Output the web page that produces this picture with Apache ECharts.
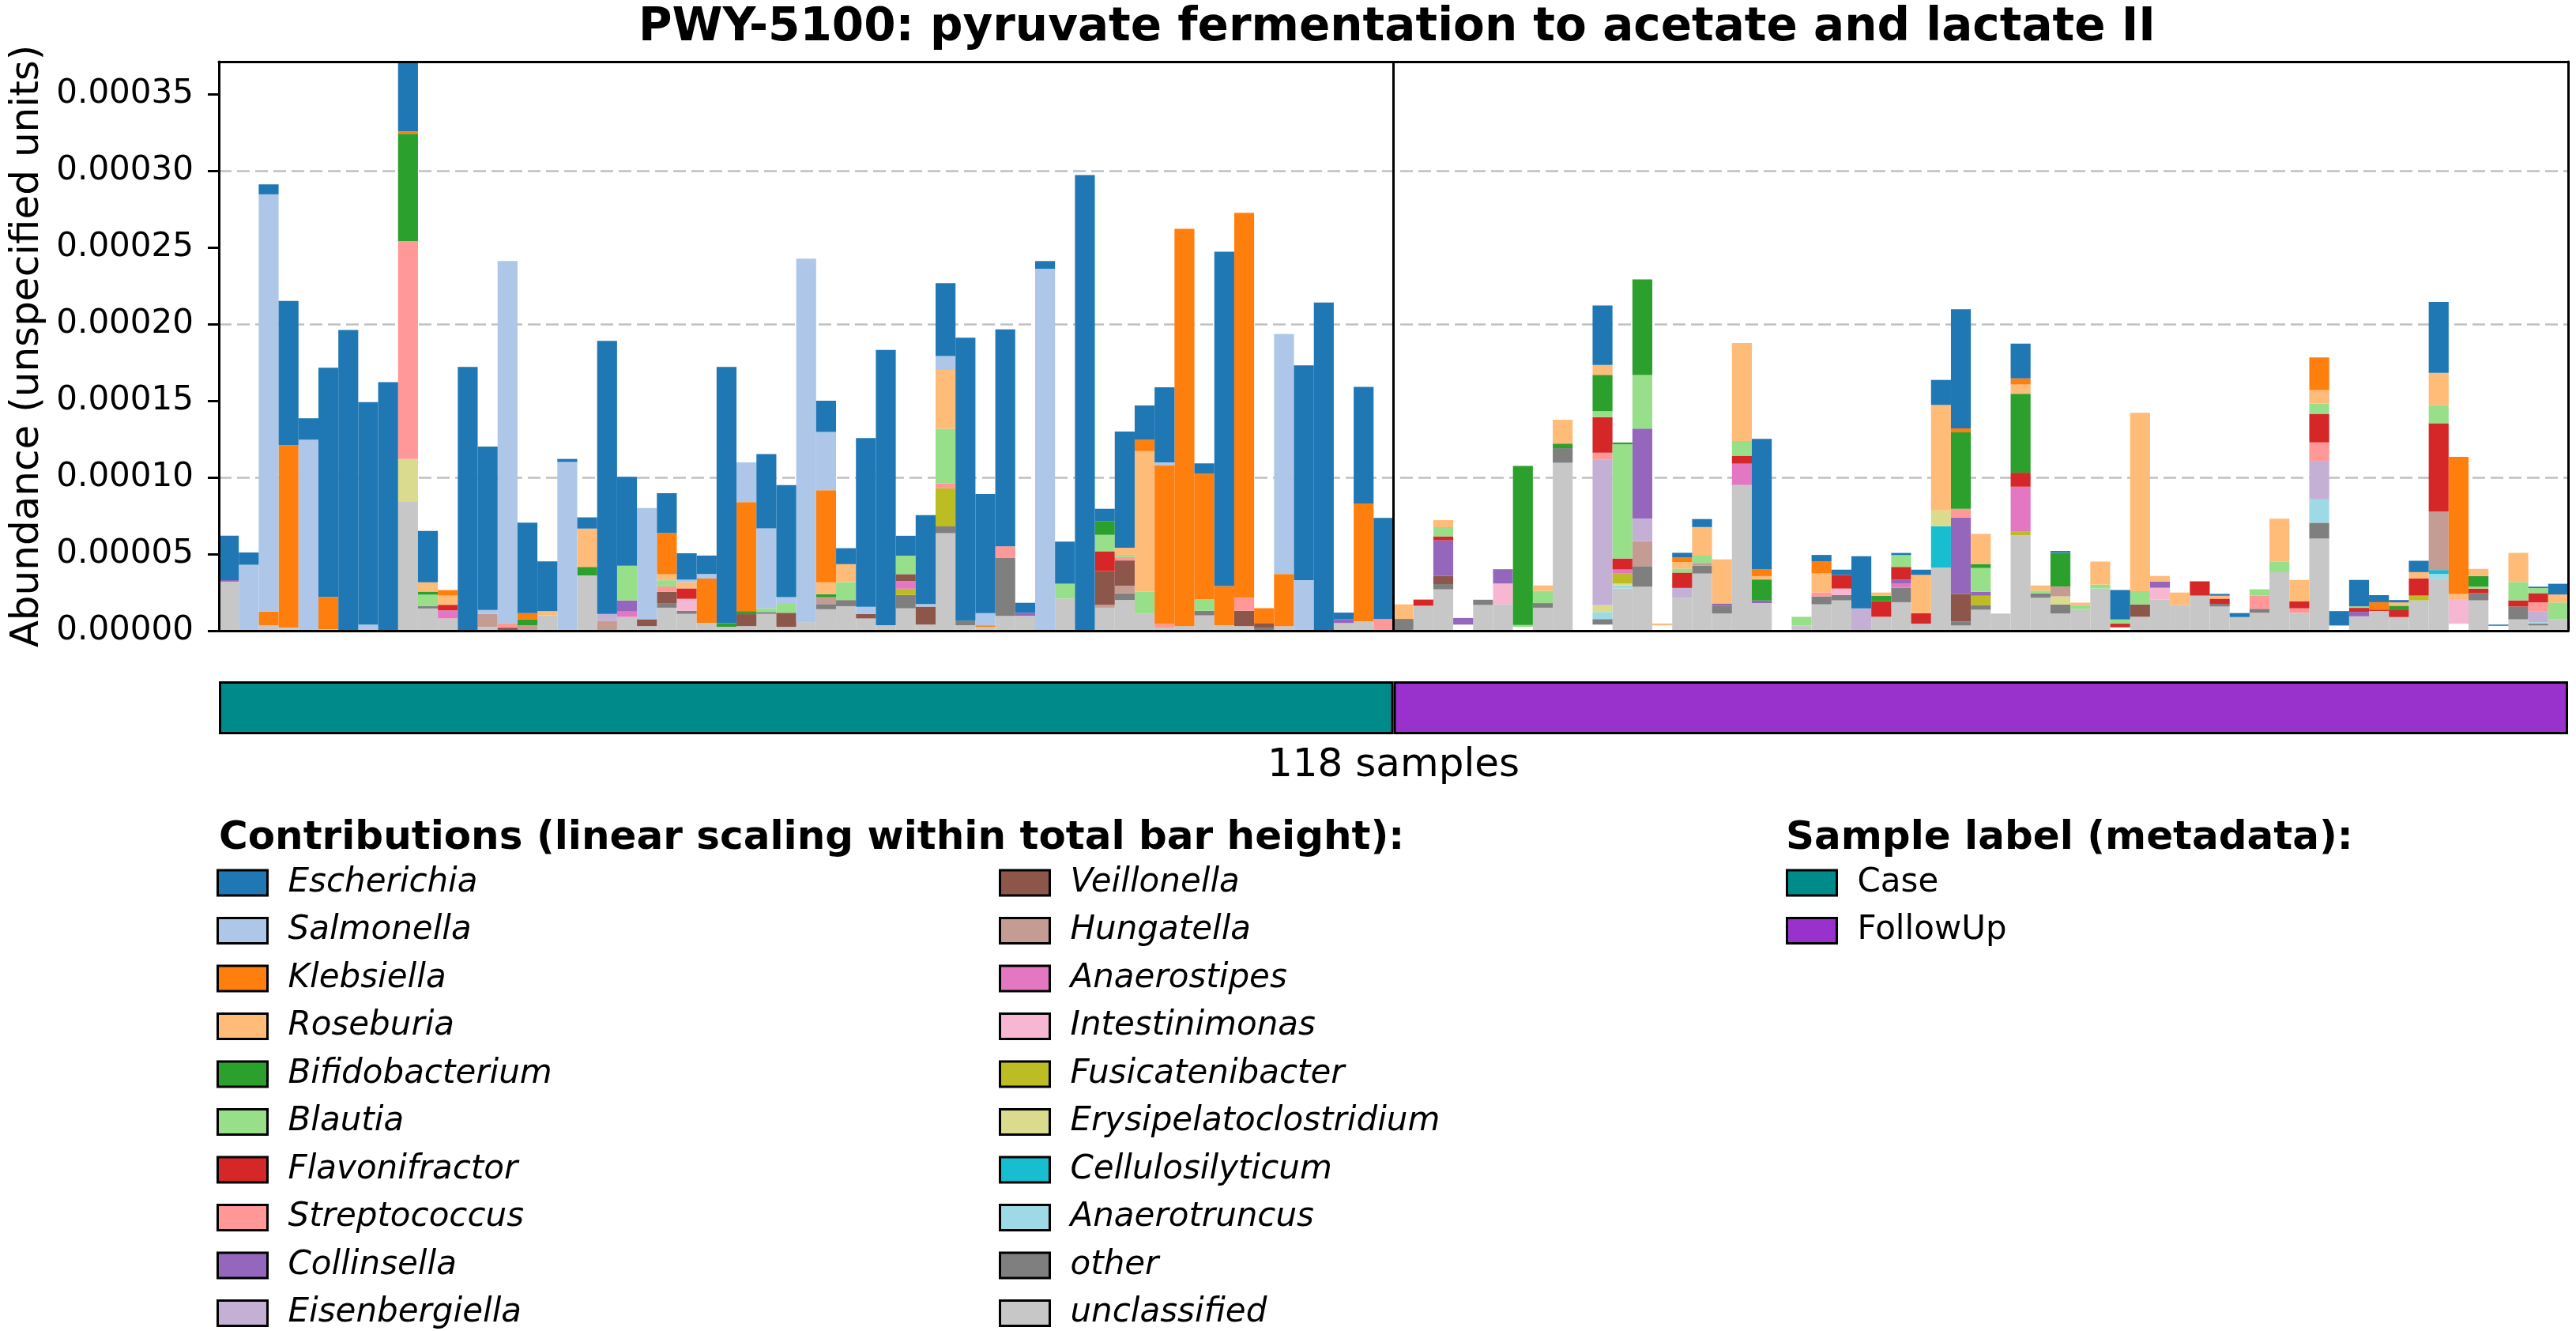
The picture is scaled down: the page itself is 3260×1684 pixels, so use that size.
<!DOCTYPE html>
<html>
<head>
<meta charset="utf-8">
<script src="https://cdn.jsdelivr.net/npm/echarts@6/dist/echarts.min.js"></script>
<style>
    html, body { margin: 0; padding: 0; background: #fff; }
    #chart { width: 3260px; height: 1684px; }
</style>
</head>
<body>
<div id="chart"></div>
<script>
// All abundances below are in units of 1e-5 (axis labels convert back).
const UNIT = 1e-5;
const yMax = 37.1;
const yTicks = [0, 5, 10, 15, 20, 25, 30, 35];
const gridStep = 10;

const groups = ["Case", "FollowUp"];
const groupSizes = [59, 59];

const escherichia = [
    2.9, 0.8, 0.65, 9.4, 1.4, 14.95, 19.6, 14.5, 16.2, 4.55,
    3.35, 0, 17.2, 10.65, 0, 5.9, 3.25, 0.2, 0.73, 17.8,
    5.8, 0, 2.6, 1.72, 1.2, 16.7, 0, 4.85, 7.3, 0,
    2.04, 1.04, 11.0, 17.95, 1.3, 5.8, 4.76, 18.45, 7.77, 14.15,
    0.65, 0.5, 2.74, 29.7, 0.8, 7.57, 2.23, 4.9, 0, 0.68,
    21.8, 0, 0, 0, 14.0, 21.4, 0.44, 7.6, 6.6, 0,
    0, 0, 0, 0, 0, 0, 0, 0, 0, 3.87,
    0, 0, 0, 0.31, 0.52, 0, 0, 8.49, 0, 0,
    0.43, 0.34, 3.4, 0, 0.14, 0.34, 1.63, 7.77, 0, 0,
    2.27, 0, 0.12, 0, 0, 1.92, 0, 0, 0, 0,
    0.12, 0.26, 0, 0, 0, 0, 0.94, 1.72, 0.46, 0.15,
    0.74, 4.62, 0, 0, 0.08, 0, 0.09, 0.7
];
const salmonella = [
    0, 4.3, 27.2, 0, 12.45, 0, 0, 0.4, 0, 0,
    0, 0, 0, 0.25, 23.6, 0, 0, 11.0, 0, 0,
    0, 7.25, 0, 0.17, 0.3, 0, 2.6, 5.2, 0.44, 23.7,
    3.8, 0, 0.46, 0, 0, 0.17, 0.9, 0, 0.8, 0,
    0, 23.5, 0, 0, 0, 0, 0, 0.17, 0, 0,
    0, 0, 0, 15.65, 3.3, 0, 0, 0, 0, 0,
    0, 0, 0, 0, 0, 0, 0, 0, 0, 0,
    0, 0, 0, 0, 0, 0, 0, 0, 0, 0,
    0, 0, 0, 0, 0, 0, 0, 0, 0, 0,
    0, 0, 0, 0, 0, 0, 0, 0, 0, 0,
    0, 0, 0, 0, 0, 0, 0, 0, 0, 0,
    0, 0, 0, 0, 0, 0, 0, 0
];
const klebsiella = [
    0, 0, 0.9, 11.9, 0, 2.1, 0, 0, 0, 0.15,
    0, 0.36, 0, 0, 0, 0.4, 0, 0, 0, 0,
    0, 0, 2.67, 0, 2.9, 0, 7.1, 0, 0, 0,
    6.0, 0, 0, 0, 0, 0, 0, 0, 0.1, 0,
    0, 0, 0, 0, 0, 0, 0.75, 10.36, 25.9, 8.2,
    2.55, 25.1, 0.97, 3.4, 0, 0, 0, 7.7, 0, 0,
    0, 0, 0, 0, 0, 0, 0, 0, 0, 0,
    0, 0, 0, 0.29, 0, 0, 0, 0.46, 0, 0,
    0.77, 0, 0, 0, 0, 0, 0, 0.26, 0, 0,
    0.4, 0, 0, 0, 0, 0, 0, 0, 0, 0,
    0, 0, 0, 0, 0, 2.13, 0, 0, 0.48, 0,
    0, 0, 8.93, 0, 0, 0, 0, 0
];
const roseburia = [
    0, 0, 0, 0, 0, 0, 0, 0, 0, 0,
    0.6, 0.6, 0, 0, 0, 0, 0.27, 0, 2.5, 0,
    0, 0, 0.4, 0.4, 0, 0, 0, 0, 0, 0,
    0.78, 1.17, 0, 0, 0, 0, 3.83, 0, 0, 0,
    0, 0, 0, 0, 0, 0.46, 9.15, 0, 0, 0,
    0, 0, 0, 0, 0, 0, 0, 0, 0, 0.95,
    0, 0.46, 0, 0, 0, 0, 0.35, 1.55, 0, 0.65,
    0, 0, 0.12, 0.43, 1.82, 2.87, 6.39, 0.22, 0, 0,
    1.24, 0, 0, 0.21, 0, 2.49, 6.87, 0, 1.96, 0,
    0.6, 0.34, 0, 0.15, 1.5, 0, 11.63, 0.36, 0.81, 0,
    0.19, 0, 0, 2.8, 1.39, 0.88, 0, 0, 0, 0.22,
    0.41, 2.11, 0.38, 0.46, 0, 1.89, 0, 0.52
];
const bifidobacterium = [
    0, 0, 0, 0, 0, 0, 0, 0, 0, 7.0,
    0.2, 0, 0, 0, 0, 0.4, 0, 0, 0.56, 0,
    0, 0, 0, 0, 0, 0.25, 0.2, 0, 0, 0,
    0.2, 0, 0, 0, 0, 0, 0, 0, 0, 0,
    0, 0, 0, 0, 0.9, 0, 0, 0, 0, 0,
    0, 0, 0, 0, 0, 0, 0, 0, 0, 0,
    0, 0, 0, 0, 0, 10.37, 0, 0.3, 0, 2.37,
    0.12, 6.24, 0, 0, 0, 0, 0, 1.37, 0, 0,
    0, 0, 0, 0.36, 0, 0, 0, 4.98, 0.26, 0,
    5.15, 0, 2.2, 0, 0, 0, 0, 0, 0, 0,
    0, 0, 0, 0, 0, 0, 0, 0, 0, 0.29,
    0, 0, 0, 0.7, 0, 0, 0, 0
];
const blautia = [
    0, 0, 0, 0, 0, 0, 0, 0, 0, 0,
    0.73, 0, 0, 0, 0, 0, 0, 0, 0, 0,
    2.26, 0, 0.4, 0, 0, 0, 0, 0.25, 0.58, 0,
    0, 1.17, 0, 0, 1.2, 0, 3.57, 0, 0, 0,
    0, 0, 0.97, 0, 1.07, 0.15, 1.46, 0, 0, 0.73,
    0, 0, 0, 0, 0, 0, 0, 0, 0, 0,
    0, 0.6, 0, 0, 0, 0.12, 0.8, 0, 0, 0.38,
    7.44, 3.49, 0, 0.26, 0.52, 0, 0.96, 0, 0, 0.57,
    0, 0, 0, 0, 0.77, 0, 0, 0, 1.55, 0,
    0, 0.17, 0, 0.27, 0.26, 0.27, 0.86, 0, 0, 0,
    0, 0, 0.41, 0.69, 0, 0.67, 0, 0.1, 0, 0,
    0, 1.17, 0, 0.12, 0, 1.2, 0.33, 1.1
];
const flavonifractor = [
    0, 0, 0, 0, 0, 0, 0, 0, 0, 0,
    0, 0.36, 0, 0, 0, 0, 0, 0, 0, 0,
    0, 0, 0, 0.68, 0, 0, 0, 0, 0, 0,
    0, 0, 0, 0, 0, 0, 0, 0, 0, 0,
    0, 0, 0, 0, 1.3, 0, 0, 0, 0, 0,
    0, 0, 0, 0, 0, 0, 0, 0, 0, 0,
    0.4, 0.26, 0, 0, 0, 0, 0, 0, 0, 2.32,
    0.72, 0, 0, 1.0, 0, 0, 0.52, 0, 0, 0,
    0, 0.89, 0, 1.01, 0.84, 0.69, 0, 0, 0, 0,
    0.91, 0, 0, 0, 0, 0.24, 0, 0, 0, 0.93,
    0.34, 0, 0, 0, 0.46, 1.86, 0, 0.26, 0.09, 0.45,
    1.12, 5.76, 0, 0.31, 0, 0.4, 0.6, 0
];
const streptococcus = [
    0, 0, 0, 0, 0, 0, 0, 0, 0, 14.2,
    0, 0, 0, 0, 0.3, 0, 0, 0, 0, 0,
    0, 0, 0.36, 0, 0, 0, 0, 0, 0, 0,
    0, 0, 0, 0, 0, 0, 0.32, 0, 0, 0.73,
    0, 0.1, 0, 0, 0, 0.22, 0, 0.24, 0, 0,
    0, 0.85, 0, 0, 0, 0, 0, 0, 0.76, 0,
    0, 0, 0, 0, 0, 0, 0, 0, 0, 0.46,
    0, 0, 0, 0, 0, 0, 0, 0, 0, 0,
    0.26, 0, 0, 0, 0, 0, 0, 0.57, 0, 0,
    0, 0, 0, 0, 0, 0, 0, 0, 0, 0,
    0, 0, 0.86, 0, 0.29, 1.2, 0, 0, 0, 0,
    0, 0, 0, 0, 0, 0, 0.57, 0
];
const collinsella = [
    0.1, 0, 0, 0, 0, 0, 0, 0, 0, 0,
    0, 0, 0, 0, 0, 0, 0, 0, 0, 0,
    0.73, 0, 0, 0, 0, 0, 0, 0, 0, 0,
    0, 0, 0, 0, 0, 0, 0, 0, 0, 0,
    0.2, 0, 0, 0, 0, 0, 0, 0, 0, 0,
    0, 0, 0, 0, 0, 0, 0.24, 0, 0, 0,
    0, 2.32, 0.43, 0, 0.93, 0, 0, 0, 0, 0,
    0, 5.88, 0, 0, 0, 0.14, 0, 0.17, 0, 0,
    0, 0, 0, 0, 0.26, 0, 0, 4.98, 0.26, 0,
    0, 0, 0, 0, 0, 0, 0, 0.41, 0, 0,
    0, 0, 0, 0, 0, 0, 0, 0.29, 0, 0,
    0, 0, 0, 0, 0, 0, 0, 0
];
const eisenbergiella = [
    0, 0, 0, 0, 0, 0, 0, 0, 0, 0,
    0, 0, 0, 0, 0, 0, 0, 0, 0, 0.45,
    0, 0, 0, 0, 0, 0, 0, 0, 0, 0,
    0, 0, 0, 0, 0, 0, 0, 0, 0, 0,
    0, 0, 0, 0, 0, 0, 0, 0, 0, 0,
    0, 0, 0, 0, 0, 0, 0, 0, 0, 0,
    0, 0, 0, 0, 0, 0, 0, 0, 0, 9.47,
    0, 1.46, 0, 0.64, 0, 0, 0, 0, 0, 0,
    0, 0, 1.46, 0, 0, 0, 0, 0, 0, 0,
    0, 0, 0, 0, 0, 0, 0, 0, 0, 0,
    0, 0, 0, 0, 0, 2.51, 0, 0, 0, 0,
    0, 0, 0, 0, 0, 0, 0.72, 0
];
const veillonella = [
    0, 0, 0, 0, 0, 0, 0, 0, 0, 0,
    0, 0, 0, 0, 0.2, 0, 0, 0, 0, 0,
    0, 0.45, 0.73, 0, 0, 0, 0.78, 0, 0.92, 0,
    0, 0, 0.3, 0, 0.46, 1.17, 0, 0, 0, 0,
    0, 0, 0, 0, 2.18, 1.65, 0, 0, 0, 0,
    0, 1.0, 0.3, 0, 0, 0, 0, 0, 0, 0,
    0, 0.53, 0, 0, 0, 0, 0, 0, 0, 0,
    0, 0, 0, 0, 0, 0, 0, 0, 0, 0,
    0, 0, 0, 0, 0, 0, 0, 1.8, 0, 0,
    0, 0, 0, 0, 0, 0, 0.81, 0, 0, 0,
    0, 0, 0, 0, 0, 0, 0, 0, 0, 0,
    0, 0, 0, 0, 0, 0, 0, 0
];
const hungatella = [
    0, 0, 0, 0, 0, 0, 0, 0, 0, 0,
    0, 0, 0, 0.85, 0, 0.35, 0, 0, 0, 0.65,
    0, 0, 0, 0, 0, 0, 0, 0, 0, 0,
    0.44, 0, 0, 0, 0, 0, 0, 0, 0, 0,
    0, 0, 0, 0, 0.2, 0.49, 0, 0, 0, 0,
    0, 0, 0, 0, 0, 0, 0, 0, 0, 0,
    0, 0, 0, 0, 0, 0, 0, 0, 0, 0,
    0, 1.63, 0, 0, 0.17, 0, 0, 0, 0, 0,
    0, 0, 0, 0, 0, 0, 0, 0, 0, 0,
    0, 0, 0.64, 0, 0, 0, 0, 0, 0, 0,
    0, 0, 0, 0, 0, 0, 0, 0, 0, 0,
    0, 3.81, 0, 0, 0, 0, 0, 0
];
const anaerostipes = [
    0, 0, 0, 0, 0, 0, 0, 0, 0, 0,
    0, 0.53, 0, 0, 0, 0, 0, 0, 0, 0,
    0.35, 0, 0, 0, 0, 0, 0, 0, 0, 0,
    0, 0, 0, 0, 0.49, 0, 0, 0, 0, 0,
    0, 0, 0, 0, 0, 0, 0, 0, 0, 0,
    0, 0, 0, 0, 0, 0, 0, 0, 0, 0,
    0, 0, 0, 0, 0, 0, 0, 0, 0, 0,
    0.27, 0, 0, 0, 0, 0, 1.39, 0, 0, 0,
    0, 0, 0, 0, 0.26, 0, 0, 0, 0, 0,
    2.9, 0, 0, 0, 0, 0, 0, 0, 0, 0,
    0, 0, 0, 0, 0, 0, 0, 0, 0, 0,
    0, 0, 0, 0, 0, 0, 0, 0
];
const intestinimonas = [
    0, 0, 0, 0, 0, 0, 0, 0, 0, 0,
    0, 0, 0, 0, 0, 0, 0, 0, 0, 0,
    0, 0, 0, 0.78, 0, 0, 0, 0, 0, 0,
    0, 0, 0, 0, 0, 0, 0, 0, 0, 0,
    0, 0, 0, 0, 0, 0, 0, 0, 0, 0,
    0, 0, 0, 0, 0, 0, 0, 0, 0, 0,
    0, 0, 0, 0, 1.36, 0, 0, 0, 0, 0,
    0, 0, 0, 0, 0, 0, 0, 0, 0, 0,
    0, 0.43, 0, 0, 0, 0, 0, 0, 0, 0,
    0, 0, 0, 0, 0, 0, 0, 0.77, 0, 0,
    0, 0, 0, 0, 0, 0, 0, 0, 0, 0,
    0, 0, 1.56, 0, 0, 0, 0, 0
];
const fusicatenibacter = [
    0, 0, 0, 0, 0, 0, 0, 0, 0, 0,
    0, 0, 0, 0, 0, 0, 0, 0, 0, 0,
    0, 0, 0, 0, 0, 0, 0, 0, 0, 0,
    0, 0, 0, 0, 0.41, 0, 2.48, 0, 0, 0,
    0, 0, 0, 0, 0, 0, 0, 0, 0, 0,
    0, 0, 0, 0, 0, 0, 0, 0, 0, 0,
    0, 0, 0, 0, 0, 0, 0, 0, 0, 0,
    0.65, 0, 0, 0, 0, 0, 0, 0, 0, 0,
    0, 0, 0, 0, 0, 0, 0, 0, 0.6, 0,
    0.27, 0, 0, 0, 0, 0, 0, 0, 0, 0,
    0, 0, 0, 0, 0, 0, 0, 0, 0, 0,
    0.31, 0, 0, 0, 0, 0, 0, 0
];
const erysipelatoclostridium = [
    0, 0, 0, 0, 0, 0, 0, 0, 0, 2.8,
    0, 0, 0, 0, 0, 0, 0, 0, 0, 0,
    0, 0, 0, 0, 0, 0, 0, 0, 0, 0,
    0, 0, 0, 0, 0, 0, 0, 0, 0, 0,
    0, 0, 0, 0, 0, 0, 0, 0, 0, 0,
    0, 0, 0, 0, 0, 0, 0, 0, 0, 0,
    0, 0, 0, 0, 0, 0, 0, 0, 0, 0.46,
    0.12, 0, 0, 0, 0, 0, 0, 0, 0, 0,
    0, 0, 0, 0, 0, 0, 1.03, 0, 0, 0,
    0, 0, 0.52, 0, 0, 0, 0, 0, 0, 0,
    0, 0, 0, 0, 0, 0, 0, 0, 0, 0,
    0, 0, 0, 0, 0, 0, 0, 0
];
const cellulosilyticum = [
    0, 0, 0, 0, 0, 0, 0, 0, 0, 0,
    0, 0, 0, 0, 0, 0, 0, 0, 0, 0,
    0, 0, 0, 0, 0, 0, 0, 0, 0, 0,
    0, 0, 0, 0, 0, 0, 0, 0, 0, 0,
    0, 0, 0, 0, 0, 0, 0, 0, 0, 0,
    0, 0, 0, 0, 0, 0, 0, 0, 0, 0,
    0, 0, 0, 0, 0, 0, 0, 0, 0, 0,
    0, 0, 0, 0, 0, 0, 0, 0, 0, 0,
    0, 0, 0, 0, 0, 0, 2.7, 0, 0, 0,
    0, 0, 0, 0, 0, 0, 0, 0, 0, 0,
    0, 0, 0, 0, 0, 0, 0, 0, 0, 0,
    0, 0.26, 0, 0, 0, 0, 0, 0
];
const anaerotruncus = [
    0, 0, 0, 0, 0, 0, 0, 0, 0, 0,
    0, 0, 0, 0, 0, 0, 0, 0, 0, 0,
    0, 0, 0, 0, 0, 0, 0, 0, 0, 0,
    0, 0, 0, 0, 0, 0, 0, 0, 0, 0,
    0, 0, 0, 0, 0, 0, 0, 0, 0, 0,
    0, 0, 0, 0, 0, 0, 0, 0, 0, 0,
    0, 0, 0, 0, 0, 0, 0, 0, 0, 0.46,
    0.2, 0, 0, 0, 0, 0, 0, 0, 0, 0,
    0, 0, 0, 0, 0, 0, 0, 0, 0, 0,
    0, 0, 0, 0, 0, 0, 0, 0, 0, 0,
    0, 0, 0, 0, 0, 1.53, 0, 0, 0, 0,
    0, 0.4, 0, 0, 0, 0, 0.1, 0
];
const other = [
    0, 0, 0, 0, 0, 0, 0, 0, 0, 0,
    0.17, 0, 0, 0, 0, 0, 0, 0, 0, 0,
    0, 0, 0.3, 0.2, 0, 0, 0, 0.12, 0, 0,
    0.34, 0.4, 0, 0, 0.87, 0, 0.44, 0.3, 0, 3.8,
    0, 0, 0, 0, 0, 0.44, 0, 0, 0, 0.3,
    0, 0, 0.2, 0, 0, 0, 0, 0, 0, 0.77,
    0, 0.34, 0, 0.34, 0, 0, 0.3, 0.95, 0, 0.36,
    0, 1.34, 0, 0, 0.52, 0.52, 0, 0, 0, 0,
    0.52, 0.34, 0, 0, 0.94, 0, 0, 0.26, 0.31, 0,
    0, 0.29, 0.6, 0, 0, 0, 0, 0, 0, 0,
    0.17, 0, 0.26, 0, 0, 1.03, 0, 0, 0, 0,
    0, 0, 0, 0.46, 0, 0.84, 0.12, 0
];
const unclassified = [
    3.2, 0, 0.35, 0.2, 0, 0.1, 0, 0, 0, 8.4,
    1.45, 0.8, 0, 0.25, 0, 0, 1.0, 0, 3.6, 0,
    0.9, 0.3, 1.5, 1.1, 0.5, 0.25, 0.3, 1.1, 0.25, 0.56,
    1.4, 1.6, 0.8, 0.36, 1.46, 0.4, 6.36, 0.36, 0.25, 0.97,
    0.97, 0, 2.1, 0, 1.5, 2.0, 1.1, 0.2, 0.3, 1.0,
    0.36, 0.3, 0, 0.3, 0, 0, 0.5, 0.6, 0, 0,
    1.63, 2.7, 0, 1.68, 1.72, 0, 1.5, 10.95, 0, 0,
    2.75, 2.87, 0, 2.15, 3.73, 1.12, 9.5, 1.8, 0, 0.34,
    1.72, 1.98, 0, 0.91, 1.86, 0.46, 4.12, 0.34, 1.37, 1.12,
    6.22, 2.15, 1.12, 1.41, 2.75, 0, 0.91, 2.03, 1.68, 2.29,
    1.58, 0.89, 1.17, 3.81, 1.17, 6.01, 0, 0.94, 1.29, 0.89,
    1.98, 3.3, 0, 1.98, 0, 0.74, 0.34, 0.74
];
// empty space under a few bars (nothing is drawn there in the original)
const blankBase = [
    0, 0, 0, 0, 0, 0, 0, 0, 0, 0,
    0, 0, 0, 0, 0, 0, 0, 0, 0, 0,
    0, 0, 0, 0, 0, 0, 0, 0, 0, 0,
    0, 0, 0, 0, 0, 0, 0, 0, 0, 0,
    0, 0, 0, 0, 0, 0, 0, 0, 0, 0,
    0, 0, 0, 0, 0, 0, 0, 0, 0, 0,
    0, 0, 0.4, 0, 0, 0.25, 0, 0, 0, 0.4,
    0, 0, 0.35, 0, 0, 0, 0, 0, 0, 0,
    0, 0, 0, 0, 0, 0, 0, 0, 0, 0,
    0, 0, 0, 0, 0, 0.22, 0, 0, 0, 0,
    0, 0, 0, 0, 0, 0, 0.34, 0, 0, 0,
    0, 0, 0.46, 0, 0.32, 0, 0, 0
];

// legend order (top of stack first)
const taxa = [
    "Escherichia", "Salmonella", "Klebsiella", "Roseburia", "Bifidobacterium",
    "Blautia", "Flavonifractor", "Streptococcus", "Collinsella", "Eisenbergiella",
    "Veillonella", "Hungatella", "Anaerostipes", "Intestinimonas", "Fusicatenibacter",
    "Erysipelatoclostridium", "Cellulosilyticum", "Anaerotruncus", "other", "unclassified"
];
const taxaValues = [
    escherichia, salmonella, klebsiella, roseburia, bifidobacterium,
    blautia, flavonifractor, streptococcus, collinsella, eisenbergiella,
    veillonella, hungatella, anaerostipes, intestinimonas, fusicatenibacter,
    erysipelatoclostridium, cellulosilyticum, anaerotruncus, other, unclassified
];
const taxaColors = [
    "#1f77b4", "#aec7e8", "#ff7f0e", "#ffbb78", "#2ca02c",
    "#98df8a", "#d62728", "#ff9896", "#9467bd", "#c5b0d5",
    "#8c564b", "#c49c94", "#e377c2", "#f7b6d2", "#bcbd22",
    "#dbdb8d", "#17becf", "#9edae5", "#7f7f7f", "#c7c7c7"
];
const groupColors = ["#008b8b", "#9932cc"];

const FONT = "DejaVu Sans";
const totalSamples = groupSizes.reduce((a, b) => a + b, 0);
const samples = Array.from({ length: totalSamples }, (_, i) => "S" + (i + 1));

const chart = echarts.init(document.getElementById("chart"), null, { renderer: "canvas" });

// stacked bars: bottom of the stack first
const barSeries = [{
    name: "blank", type: "bar", stack: "total", data: blankBase,
    barCategoryGap: "0%", itemStyle: { color: "rgba(0,0,0,0)" }, silent: true
}];
for (let i = taxa.length - 1; i >= 0; i--) {
    barSeries.push({
        name: taxa[i], type: "bar", stack: "total", data: taxaValues[i],
        barCategoryGap: "0%", itemStyle: { color: taxaColors[i] }, silent: true
    });
}

const groupSeries = groups.map((g, i) => ({
    name: g, type: "bar", stack: "meta", data: [groupSizes[i]],
    xAxisIndex: 2, yAxisIndex: 3, barWidth: "100%", silent: true,
    itemStyle: { color: groupColors[i], borderColor: "#000", borderWidth: 3 }
}));

const legendBase = {
    orient: "vertical", itemWidth: 63, itemHeight: 32, itemGap: 18.5, icon: "rect",
    selectedMode: false, top: 1096, height: 588, padding: 0,
    itemStyle: { borderColor: "#000", borderWidth: 3 },
    textStyle: { fontFamily: FONT, fontSize: 42, color: "#000", fontStyle: "italic", padding: [0, 0, 0, 21] }
};
const frameLine = { show: true, onZero: false, lineStyle: { color: "#000", width: 3 } };

chart.setOption({
    animation: false,
    backgroundColor: "#fff",
    title: [
        { text: "PWY-5100: pyruvate fermentation to acetate and lactate II", left: 1763, top: 2, textAlign: "center",
          textStyle: { fontFamily: FONT, fontSize: 58, fontWeight: "bold", color: "#000" } },
        { text: "Contributions (linear scaling within total bar height):", left: 272, top: 1031,
          textStyle: { fontFamily: FONT, fontSize: 50, fontWeight: "bold", color: "#000" } },
        { text: "Sample label (metadata):", left: 2255, top: 1031,
          textStyle: { fontFamily: FONT, fontSize: 50, fontWeight: "bold", color: "#000" } }
    ],
    legend: [
        Object.assign({}, legendBase, { left: 274, data: taxa.slice(0, 10) }),
        Object.assign({}, legendBase, { left: 1264, data: taxa.slice(10) }),
        Object.assign({}, legendBase, { left: 2260, data: groups,
            textStyle: Object.assign({}, legendBase.textStyle, { fontStyle: "normal" }) })
    ],
    grid: [
        { left: 277, right: 10, top: 78, bottom: 886 },
        { left: 277, right: 10, top: 862, height: 67 }
    ],
    xAxis: [
        { type: "category", gridIndex: 0, data: samples, z: 10, axisLine: frameLine,
          axisTick: { show: false }, axisLabel: { show: false }, splitLine: { show: false } },
        { type: "value", gridIndex: 0, position: "top", min: 0, max: totalSamples, z: 10, axisLine: frameLine,
          axisTick: { show: false }, axisLabel: { show: false }, splitLine: { show: false } },
        { type: "value", gridIndex: 1, min: 0, max: totalSamples,
          name: totalSamples + " samples", nameLocation: "middle", nameGap: 15,
          nameTextStyle: { fontFamily: FONT, fontSize: 50, color: "#000" },
          axisLine: { show: false }, axisTick: { show: false }, axisLabel: { show: false }, splitLine: { show: false } }
    ],
    yAxis: [
        { type: "value", gridIndex: 0, position: "left", min: 0, max: yMax, interval: 5, z: 10,
          name: "Abundance (unspecified units)", nameLocation: "middle", nameGap: 212,
          nameTextStyle: { fontFamily: FONT, fontSize: 50, color: "#000" },
          axisLine: frameLine,
          axisTick: { show: true, length: 14, lineStyle: { color: "#000", width: 3 }, customValues: yTicks },
          axisLabel: { fontFamily: FONT, fontSize: 42, color: "#000", margin: 32,
                       customValues: yTicks, formatter: v => (v * UNIT).toFixed(5) },
          splitLine: { show: false } },
        { type: "value", gridIndex: 0, position: "left", min: 0, max: yMax, interval: gridStep,
          axisLine: { show: false }, axisTick: { show: false }, axisLabel: { show: false },
          splitLine: { show: true, lineStyle: { color: "#c0c0c0", width: 2.5, type: [16, 7] } } },
        { type: "value", gridIndex: 0, position: "right", min: 0, max: yMax, z: 10, axisLine: frameLine,
          axisTick: { show: false }, axisLabel: { show: false }, splitLine: { show: false } },
        { type: "category", gridIndex: 1, data: ["label"], show: false }
    ],
    series: barSeries.concat(groupSeries, [{
        name: "divider", type: "line", xAxisIndex: 1, yAxisIndex: 0, z: 10,
        data: [[groupSizes[0], 0]], symbolSize: 0, silent: true,
        markLine: { silent: true, symbol: "none", label: { show: false },
                    lineStyle: { color: "#000", width: 3, type: "solid" },
                    data: [{ xAxis: groupSizes[0] }] }
    }])
});
</script>
</body>
</html>
